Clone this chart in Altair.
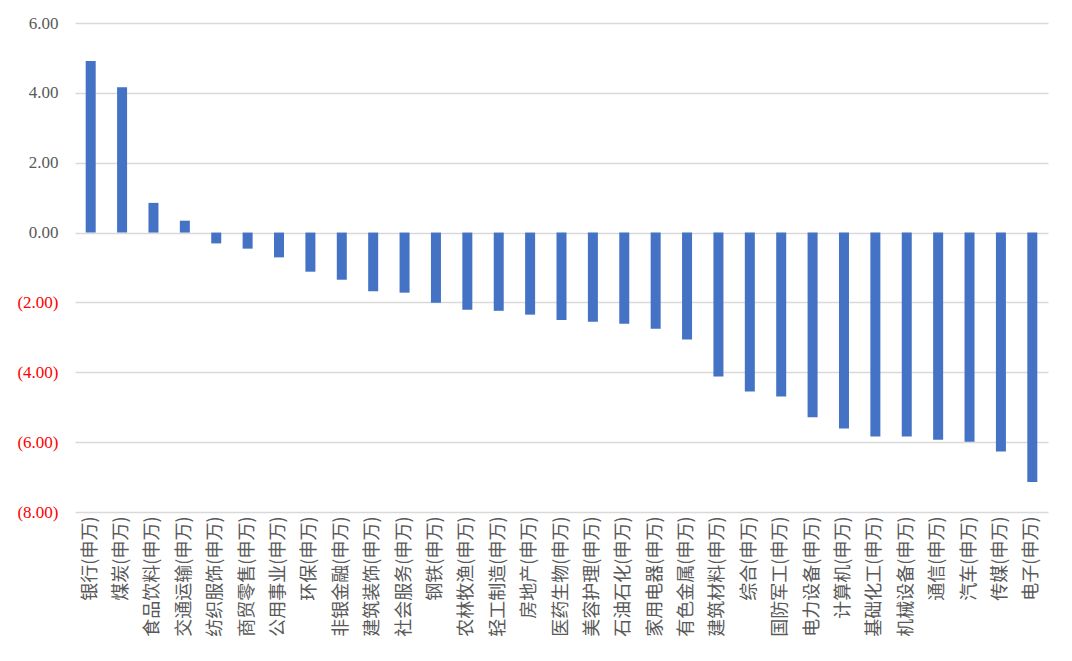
import altair as alt
import pandas as pd

categories = ["银行", "煤炭", "食品饮料", "交通运输", "纺织服饰", "商贸零售", "公用事业", "环保",
              "非银金融", "建筑装饰", "社会服务", "钢铁", "农林牧渔", "轻工制造", "房地产",
              "医药生物", "美容护理", "石油石化", "家用电器", "有色金属", "建筑材料", "综合",
              "国防军工", "电力设备", "计算机", "基础化工", "机械设备", "通信", "汽车", "传媒", "电子"]
labels = [c + "(申万)" for c in categories]
values = [4.91, 4.16, 0.85, 0.34, -0.31, -0.46, -0.71, -1.12, -1.35, -1.68, -1.72, -2.01,
          -2.21, -2.24, -2.35, -2.50, -2.55, -2.61, -2.75, -3.06, -4.12, -4.55, -4.69,
          -5.29, -5.61, -5.84, -5.84, -5.93, -5.99, -6.27, -7.14]
y_ticks = [-8, -6, -4, -2, 0, 2, 4, 6]

df = pd.DataFrame({"industry": labels, "value": values})

chart = alt.Chart(df).mark_bar(size=10, color="#4472C4").encode(
    x=alt.X("industry:N", sort=labels, title=None,
            axis=alt.Axis(labelAngle=-90, labelFont="Noto Sans CJK SC", labelFontSize=18,
                          labelColor="#595959", ticks=False, domain=False, labelPadding=4,
                          labelLimit=200, labelAlign="right", labelBaseline="middle")),
    y=alt.Y("value:Q", title=None,
            scale=alt.Scale(domain=[-8, 6], nice=False, zero=False),
            axis=alt.Axis(values=y_ticks, ticks=False, domain=False, labelPadding=17,
                          labelFont="'Liberation Serif', 'Times New Roman', serif", labelFontSize=17,
                          labelColor=alt.ExprRef(expr="datum.value < 0 ? '#FF0000' : '#595959'"),
                          labelExpr="datum.value < 0 ? '(' + format(-datum.value, '.2f') + ')' : format(datum.value, '.2f')",
                          gridColor="#D9D9D9", gridWidth=1.5)),
).properties(
    width=973, height=489,
    padding={"left": 67, "top": 15, "right": 16, "bottom": 140},
    autosize=alt.AutoSizeParams(type="none"),
).configure_view(stroke=None)

chart.save("out.html", embed_options={"renderer": "svg", "actions": False})
